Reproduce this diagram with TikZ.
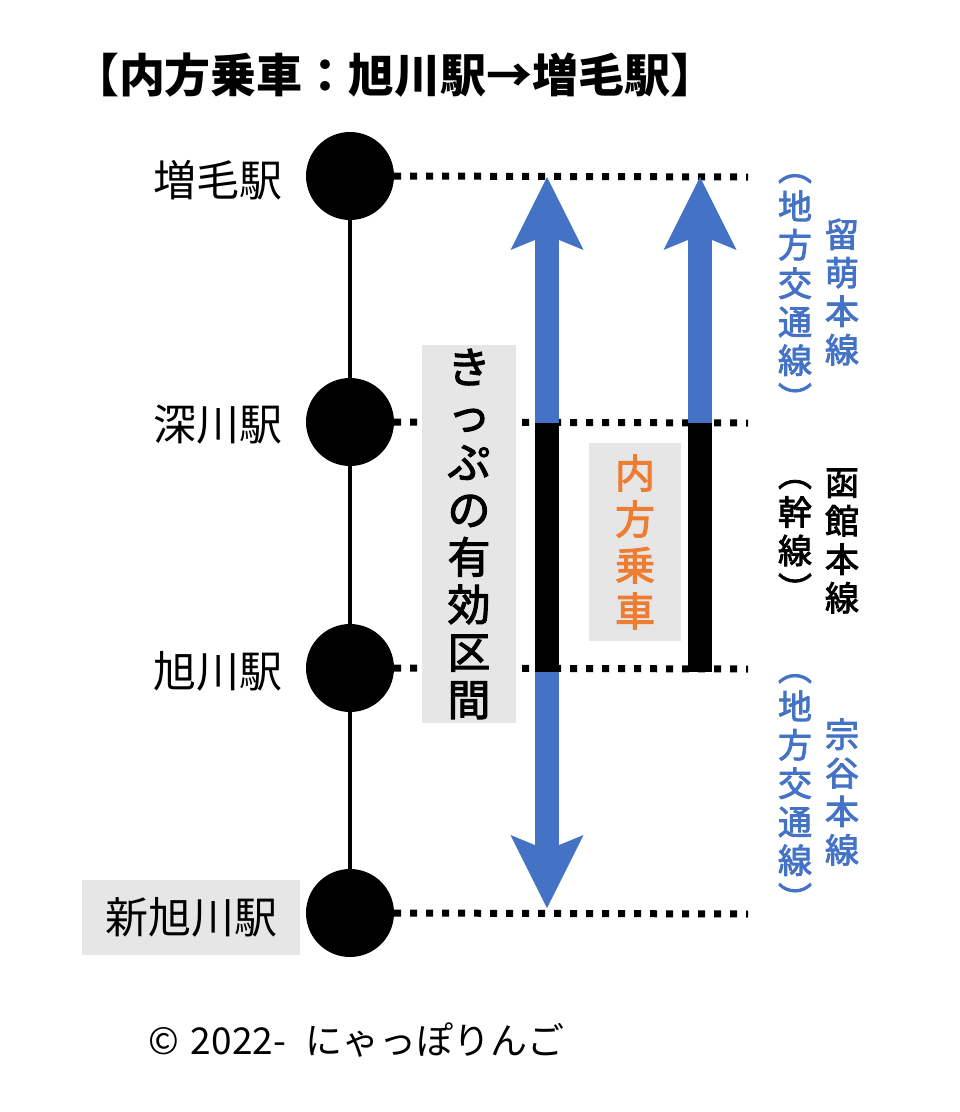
\documentclass[tikz,border=0pt]{standalone}
\usepackage{fontspec}
\setmainfont{Noto Sans CJK JP}
\newfontfamily\medfont[FakeBold=2.5]{Noto Sans CJK JP}
\usetikzlibrary{arrows.meta,positioning}
\definecolor{jrblue}{HTML}{4472C4}
\definecolor{jrorange}{HTML}{ED7D31}
\definecolor{boxgray}{HTML}{E7E6E6}

\begin{document}
\begin{tikzpicture}[x=1pt,y=-1pt,
  station/.style={circle,fill=black,minimum size=88pt,inner sep=0pt},
  stname/.style={anchor=east,inner sep=0pt,font=\fontsize{43}{46}\selectfont},
  dotline/.style={line width=7pt,dash pattern=on 7pt off 9pt},
  shaft/.style={line width=24pt},
  bluearrow/.style={shaft,draw=jrblue,-{Stealth[length=73pt,width=73pt,inset=15pt,line width=0pt]}},
  graybox/.style={fill=boxgray,inner sep=0pt,align=center},
  vlabel/.style={align=center,inner sep=0pt,font=\medfont\fontsize{34}{38.5}\selectfont}]
\useasboundingbox (0,0) rectangle (960,1112);

% title
\node[font=\bfseries\fontsize{46}{50}\selectfont] (title) at (395,75) {【内方乗車：旭川駅→増毛駅】};

% line and stations
\node[station] (mashike) at (350,176) {};
\node[station] (fukagawa) at (350,422) {};
\node[station] (asahikawa) at (350,668) {};
\node[station] (shinasahi) at (350,913) {};
\draw[line width=4pt] (mashike) -- (shinasahi);

\node[stname] (lmashike) at (283,180) {増毛駅};
\node[stname] (lfukagawa) at (283,425) {深川駅};
\node[stname] (lasahikawa) at (283,671) {旭川駅};
\node[graybox,minimum width=218pt,minimum height=75pt,font=\fontsize{43}{46}\selectfont] (lshinasahi) at (191,917) {新旭川駅};

% dotted guides
\coordinate (e1) at (748,177);
\coordinate (e2) at (748,423);
\coordinate (e3) at (748,669);
\coordinate (e4) at (748,914);
\draw[dotline] (mashike.east) -- (e1);
\draw[dotline] (fukagawa.east) -- (e2);
\draw[dotline] (asahikawa.east) -- (e3);
\draw[dotline] (shinasahi.east) -- (e4);

% ticket range
\node[graybox,minimum width=94pt,minimum height=378pt,
  font=\medfont\fontsize{43}{47.5}\selectfont] (valid) at (469,534) {き\\っ\\ぷ\\の\\有\\効\\区\\間};
\coordinate (m1) at (547,177);
\coordinate (f1) at (547,423);
\coordinate (a1) at (547,672);
\coordinate (s1) at (547,908);
\draw[bluearrow] (f1) -- (m1);
\draw[shaft] (f1) -- (a1);
\draw[bluearrow] (a1) -- (s1);

% boarding section
\node[graybox,minimum width=92pt,minimum height=198pt,text=jrorange,
  font=\medfont\fontsize{40}{46}\selectfont] (uchikata) at (635,542) {内\\方\\乗\\車};
\coordinate (m2) at (700,177);
\coordinate (f2) at (700,423);
\coordinate (a2) at (700,672);
\draw[bluearrow] (f2) -- (m2);
\draw[shaft] (f2) -- (a2);

% line names
\node[vlabel,text=jrblue] (rumoi) at (842,292) {留\\萌\\本\\線};
\node[vlabel,text=jrblue] (rumoikind) at (795,293) {︵\\地\\方\\交\\通\\線\\︶};
\node[vlabel] (hakodate) at (842,541) {函\\館\\本\\線};
\node[vlabel] (hakodatekind) at (795,541) {︵\\幹\\線\\︶};
\node[vlabel,text=jrblue] (soya) at (842,792) {宗\\谷\\本\\線};
\node[vlabel,text=jrblue] (soyakind) at (795,793) {︵\\地\\方\\交\\通\\線\\︶};

% copyright
\node[anchor=west,inner sep=0pt,font=\fontsize{37}{40}\selectfont] (copy) at (148,1040) {©\hspace{12pt}2022-\hspace{20pt}にゃっぽりんご};
\end{tikzpicture}
\end{document}
